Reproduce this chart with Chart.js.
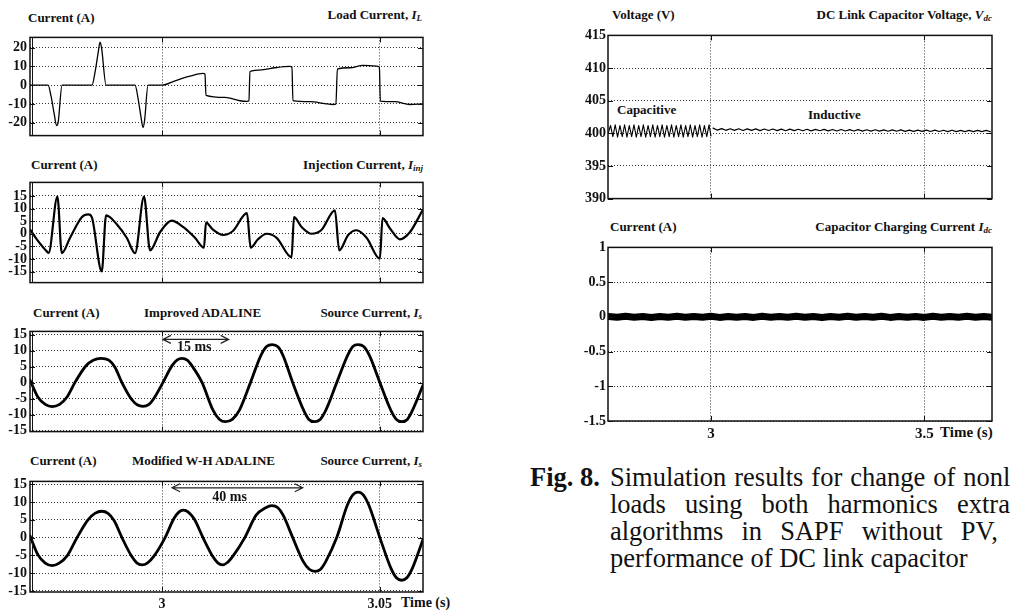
<!DOCTYPE html>
<html><head><meta charset="utf-8">
<script src="https://cdn.jsdelivr.net/npm/chart.js@4.4.1/dist/chart.umd.min.js"></script>
<style>
html,body{margin:0;padding:0;background:#fff;width:1010px;height:613px;overflow:hidden;position:relative;font-family:"Liberation Serif","Times New Roman",serif;color:#111}
canvas{position:absolute}
.t{position:absolute;font-weight:bold;font-size:13px;white-space:nowrap;line-height:14px}
.t i{font-style:italic}
.t sub{font-size:9px;vertical-align:-2px;line-height:0}
.cap{position:absolute;font-size:26.5px;white-space:nowrap;line-height:27px}
</style></head><body>

<div class="t" style="left:28px;top:11px">Current (A)</div>
<div class="t" style="right:588px;top:8px">Load Current, <i>I<sub>L</sub></i></div>
<div class="t" style="left:31px;top:158px">Current (A)</div>
<div class="t" style="right:587px;top:158px">Injection Current, <i>I<sub>inj</sub></i></div>
<div class="t" style="left:33px;top:306px">Current (A)</div>
<div class="t" style="left:144px;top:306px">Improved ADALINE</div>
<div class="t" style="right:588px;top:306px">Source Current, <i>I<sub>s</sub></i></div>
<div class="t" style="left:30px;top:454px">Current (A)</div>
<div class="t" style="left:132px;top:454px">Modified W-H ADALINE</div>
<div class="t" style="right:588px;top:454px">Source Current, <i>I<sub>s</sub></i></div>
<div class="t" style="left:401px;top:596px;font-size:14px">Time (s)</div>

<div class="t" style="left:612px;top:8px">Voltage (V)</div>
<div class="t" style="right:18px;top:8px">DC Link Capacitor Voltage, <i>V<sub>dc</sub></i></div>
<div class="t" style="left:617px;top:103px">Capacitive</div>
<div class="t" style="left:808px;top:108px">Inductive</div>
<div class="t" style="left:610px;top:220px">Current (A)</div>
<div class="t" style="right:18px;top:220px">Capacitor Charging Current <i>I<sub>dc</sub></i></div>
<div class="t" style="left:940px;top:425px;font-size:15px">Time (s)</div>

<div class="cap" style="left:530px;top:464px"><b>Fig. 8.</b></div>
<div class="cap" style="left:610px;top:464px;word-spacing:1.3px">Simulation results for change of nonlinear</div>
<div class="cap" style="left:610px;top:491px;word-spacing:12.4px">loads using both harmonics extraction</div>
<div class="cap" style="left:610px;top:518px;word-spacing:11.5px">algorithms in SAPF without PV,</div>
<div class="cap" style="left:610px;top:545px">performance of DC link capacitor</div>

<canvas id="c1"></canvas><canvas id="c2"></canvas><canvas id="c3"></canvas>
<canvas id="c4"></canvas><canvas id="c5"></canvas><canvas id="c6"></canvas>

<script>
// ---------------- DATA ----------------
const leftXTicks = [3, 3.05];
const rightXTicks = [3, 3.5];

// Load current I_L
const loadT = [2.96972,2.97385,2.97454,2.97523,2.97580,2.97615,2.97706,2.98394,2.98463,2.98532,2.98578,2.98612,2.98716,2.99381,2.99450,2.99518,2.99564,2.99599,2.99679,3.00000,3.00298,3.00642,3.00940,3.00986,3.01009,3.01445,3.01789,3.01950,3.01995,3.02018,3.02294,3.02592,3.02936,3.02982,3.03005,3.03394,3.03739,3.03922,3.03991,3.04025,3.04312,3.04610,3.04908,3.04989,3.05011,3.05344,3.05688,3.05986];
const loadV = [0,0,-6,-15,-21.5,-20,0,0,7,17,23,20,0,0,-7,-17,-22.5,-19,0,0,2.3,4.8,6.3,6.0,-5.4,-6.5,-8.3,-8.6,-8.4,7.3,8.2,9.3,10,9.8,-8.2,-8.8,-9.8,-10.3,-10.1,8.6,9.3,10.6,10.2,9.7,-8.5,-8.8,-10.3,-10];
const loadYTicks = [-20,-10,0,10,20];

// Injection current I_inj
const injT = [2.96972,2.97126,2.97362,2.97397,2.97599,2.97700,2.97890,2.98158,2.98310,2.98388,2.98617,2.98716,2.98961,2.99190,2.99381,2.99587,2.99725,2.99954,3.00222,3.00482,3.00757,3.00963,3.01009,3.01170,3.01399,3.01628,3.01950,3.02034,3.02202,3.02401,3.02631,3.02975,3.03028,3.03204,3.03433,3.03663,3.03968,3.04067,3.04273,3.04466,3.04695,3.05000,3.05062,3.05229,3.05459,3.05688,3.05979];
const injV = [1.6,-2.2,-7.1,-7.6,14.8,-7.7,-1.6,6.6,7.7,6.6,-15,7.3,3.8,-1.6,-7.7,14.8,-6.6,0.6,5.2,2.7,-1.6,-5.5,4.4,1.6,-0.5,1.1,8.2,-5.5,-2.2,0,-1.6,-9.3,6.6,2.7,0,1.6,9.3,-6.6,-0.5,1.4,-1.6,-9.9,6.2,2.2,-2.2,0.6,9.3];
const injYTicks = [-15,-10,-5,0,5,10,15];

// Source current, Improved ADALINE
const srcAT = [2.9697,2.9715,2.9732,2.9748,2.9765,2.9782,2.9800,2.9825,2.9842,2.9860,2.9878,2.9892,2.9908,2.9930,2.9944,2.9956,2.9970,2.9982,3.0002,3.0023,3.0035,3.0046,3.0058,3.0070,3.0092,3.0117,3.0132,3.0146,3.0162,3.0178,3.0203,3.0227,3.0240,3.0253,3.0266,3.0278,3.0300,3.0325,3.0337,3.0350,3.0363,3.0376,3.0401,3.0426,3.0438,3.0450,3.0463,3.0476,3.0500,3.0525,3.0538,3.0550,3.0563,3.0575,3.0599];
const srcAV = [0.8,-4.5,-6.8,-7.5,-6.8,-4.5,0,5.2,7.0,7.6,7.0,4.8,0,-5.2,-7.0,-7.4,-6.8,-4.8,0,5.3,7.1,7.6,7.0,5.0,0,-8.6,-11.5,-12.2,-11.4,-8.5,0,8.5,11.3,11.9,11.2,8.4,0,-8.6,-11.5,-12.2,-11.5,-8.6,0,8.5,11.3,11.9,11.3,8.5,0,-8.6,-11.5,-12.2,-11.5,-8.6,-0.8];

// Source current, Modified W-H ADALINE
const srcBT = [2.9697,2.9715,2.9732,2.9748,2.9764,2.9783,2.9805,2.9830,2.9846,2.9862,2.9876,2.9890,2.9908,2.9930,2.9942,2.9954,2.9967,2.9981,3.0007,3.0027,3.0038,3.0049,3.0061,3.0074,3.0094,3.0117,3.0128,3.0138,3.0150,3.0164,3.0190,3.0216,3.0238,3.0252,3.0266,3.0278,3.0300,3.0324,3.0338,3.0351,3.0364,3.0376,3.0401,3.0425,3.0438,3.0450,3.0462,3.0475,3.0500,3.0525,3.0538,3.0550,3.0562,3.0575,3.0599];
const srcBV = [0.5,-4.8,-7.2,-7.9,-7.2,-5.0,0,5.0,6.8,7.4,6.8,4.8,0,-5.2,-7.1,-7.7,-7.1,-5.3,0,5.3,7.1,7.7,7.1,5.2,0,-5.4,-7.1,-7.7,-7.0,-5.0,0,6.3,8.4,9.0,8.4,6.3,0,-6.7,-8.9,-9.5,-8.9,-6.7,0,9.0,12.0,12.8,12.0,9.0,0,-8.5,-11.3,-12.0,-11.3,-8.5,-0.5];
const srcYTicks = [-15,-10,-5,0,5,10,15];

// Arrow annotations (time span, level, label)
const arrowA = {t0:3.0002, t1:3.0153, y:13.5, text:'15 ms', tx:3.0074, ty:10.9};
const arrowB = {t0:3.0023, t1:3.0323, y:14.0, text:'40 ms', tx:3.0155, ty:11.2};

// DC link capacitor voltage
const capT = [2.7590,2.7645,2.7700,2.7755,2.7810,2.7865,2.7920,2.7975,2.8030,2.8085,2.8140,2.8195,2.8250,2.8305,2.8360,2.8415,2.8470,2.8525,2.8580,2.8635,2.8690,2.8745,2.8800,2.8855,2.8910,2.8965,2.9020,2.9075,2.9130,2.9185,2.9240,2.9295,2.9350,2.9405,2.9460,2.9515,2.9570,2.9625,2.9680,2.9735,2.9790,2.9845,2.9900,2.9955,3.0000];
const capV = [400.0,401.2,399.5,401.3,399.4,401.2,399.5,401.3,399.4,401.2,399.5,401.3,399.4,401.2,399.5,401.3,399.4,401.2,399.5,401.3,399.4,401.2,399.5,401.3,399.4,401.2,399.5,401.3,399.4,401.2,399.5,401.3,399.4,401.2,399.5,401.3,399.4,401.2,399.5,401.3,399.4,401.2,399.5,401.3,399.6];
const indT = [3.005,3.015,3.025,3.035,3.045,3.055,3.065,3.075,3.085,3.095,3.105,3.115,3.125,3.135,3.145,3.155,3.165,3.175,3.185,3.195,3.205,3.215,3.225,3.235,3.245,3.255,3.265,3.275,3.285,3.295,3.305,3.315,3.325,3.335,3.345,3.355,3.365,3.375,3.385,3.395,3.405,3.415,3.425,3.435,3.445,3.455,3.465,3.475,3.485,3.495,3.505,3.515,3.525,3.535,3.545,3.555,3.565,3.575,3.585,3.595,3.605,3.615,3.625,3.635,3.645,3.655];
const indV = [400.80,400.48,400.72,400.46,400.70,400.45,400.70,400.44,400.68,400.45,400.68,400.42,400.66,400.43,400.66,400.42,400.64,400.40,400.64,400.41,400.62,400.40,400.62,400.38,400.60,400.39,400.60,400.37,400.58,400.36,400.58,400.36,400.56,400.35,400.56,400.34,400.55,400.33,400.54,400.33,400.53,400.32,400.52,400.31,400.52,400.30,400.50,400.30,400.50,400.29,400.49,400.28,400.48,400.28,400.47,400.27,400.47,400.26,400.46,400.26,400.45,400.25,400.45,400.25,400.44,400.24];
const vdcYTicks = [390,395,400,405,410,415];

// Capacitor charging current
const idcT = [2.76,2.78,2.80,2.82,2.84,2.86,2.88,2.90,2.92,2.94,2.96,2.98,3.00,3.02,3.04,3.06,3.08,3.10,3.12,3.14,3.16,3.18,3.20,3.22,3.24,3.26,3.28,3.30,3.32,3.34,3.36,3.38,3.40,3.42,3.44,3.46,3.48,3.50,3.52,3.54,3.56,3.58,3.60,3.62,3.64,3.66];
const idcV = [0.005,-0.005,0.008,-0.005,0.005,-0.008,0.005,-0.005,0.008,-0.005,0.005,-0.005,0.008,-0.008,0.005,-0.005,0.005,-0.008,0.008,-0.005,0.005,-0.005,0.008,-0.005,0.005,-0.008,0.005,-0.005,0.008,-0.005,0.005,-0.005,0.008,-0.008,0.005,-0.005,0.005,-0.008,0.008,-0.005,0.005,-0.005,0.008,-0.005,0.005,-0.005];
const idcYTicks = [-1.5,-1,-0.5,0,0.5,1];

// ---------------- RENDERING ----------------
const FONT = '"Liberation Serif","Times New Roman",serif';
const pts = (T, V) => T.map((t, i) => ({x: t, y: V[i]}));

const framePlugin = {
  id: 'frame',
  afterDraw(chart, args, o) {
    const {ctx, chartArea: a, scales: {x, y}} = chart;
    ctx.save();
    ctx.setLineDash([]);
    ctx.strokeStyle = '#111';
    ctx.lineWidth = 1;
    const tl = 5;
    ctx.beginPath();
    y.ticks.forEach(t => {
      const p = Math.round(y.getPixelForValue(t.value)) + 0.5;
      ctx.moveTo(a.left, p); ctx.lineTo(a.left + tl, p);
      ctx.moveTo(a.right, p); ctx.lineTo(a.right - tl, p);
    });
    x.ticks.forEach(t => {
      const p = Math.round(x.getPixelForValue(t.value)) + 0.5;
      ctx.moveTo(p, a.top); ctx.lineTo(p, a.top + tl);
      ctx.moveTo(p, a.bottom); ctx.lineTo(p, a.bottom - tl);
    });
    ctx.stroke();
    ctx.lineWidth = 1.5;
    ctx.strokeRect(a.left, a.top, a.right - a.left, a.bottom - a.top);
    if (o && o.doubleLeft) {
      ctx.lineWidth = 1;
      ctx.beginPath(); ctx.moveTo(a.left + 2.5, a.top); ctx.lineTo(a.left + 2.5, a.bottom); ctx.stroke();
    }
    if (o && o.arrow) {
      const ar = o.arrow;
      const x0 = x.getPixelForValue(ar.t0), x1 = x.getPixelForValue(ar.t1), yy = y.getPixelForValue(ar.y);
      ctx.strokeStyle = '#222'; ctx.lineWidth = 1.2;
      ctx.beginPath();
      ctx.moveTo(x0, yy); ctx.lineTo(x1, yy);
      ctx.moveTo(x0 + 8, yy - 4); ctx.lineTo(x0, yy); ctx.lineTo(x0 + 8, yy + 4);
      ctx.moveTo(x1 - 8, yy - 4); ctx.lineTo(x1, yy); ctx.lineTo(x1 - 8, yy + 4);
      ctx.stroke();
      ctx.fillStyle = '#111';
      ctx.font = 'bold 14px ' + FONT;
      ctx.textAlign = 'center'; ctx.textBaseline = 'middle';
      ctx.fillText(ar.text, x.getPixelForValue(ar.tx), y.getPixelForValue(ar.ty));
    }
    ctx.restore();
  }
};

function makeChart(id, g, datasets, opt) {
  const padT = 2, padR = 2;
  const cv = document.getElementById(id);
  const W = g.R - g.L + g.yw + padR, H = g.B - g.T + padT + g.xh;
  cv.width = W; cv.height = H;
  cv.style.left = (g.L - g.yw) + 'px'; cv.style.top = (g.T - padT) + 'px';
  cv.style.width = W + 'px'; cv.style.height = H + 'px';
  return new Chart(cv, {
    type: 'line',
    data: {datasets},
    plugins: [framePlugin],
    options: {
      responsive: false, animation: false, events: [],
      layout: {padding: {top: padT, right: padR, left: 0, bottom: 0}},
      plugins: {legend: {display: false}, tooltip: {enabled: false}, frame: opt.frame || {}},
      elements: {point: {radius: 0}, line: {borderCapStyle: 'round', borderJoinStyle: 'round'}},
      scales: {
        x: {
          type: 'linear', min: g.xmin, max: g.xmax,
          afterBuildTicks: s => { s.ticks = g.xTicks.map(v => ({value: v})); },
          afterFit: s => { s.height = g.xh; },
          grid: {drawTicks: false, color: '#333', lineWidth: 1},
          border: {display: false, dash: [1, 2]},
          ticks: {display: g.showX, autoSkip: false, maxRotation: 0, padding: 4, color: '#111',
                  font: {family: FONT, size: g.xfs, weight: 'bold'}, callback: v => String(v)}
        },
        y: {
          type: 'linear', min: g.ymin, max: g.ymax,
          afterBuildTicks: s => { s.ticks = g.yTicks.map(v => ({value: v})); },
          afterFit: s => { s.width = g.yw; },
          grid: {drawTicks: false, color: '#333', lineWidth: 1},
          border: {display: false, dash: [1, 2]},
          ticks: {autoSkip: false, padding: g.ypad, color: '#111', font: {family: FONT, size: g.yfs, weight: 'bold'},
                  callback: v => String(v)}
        }
      }
    }
  });
}

const LX = {L: 30, R: 423, yw: 30, ypad: 3, yfs: 14, xfs: 14, xmin: 2.9697, xmax: 3.0599, xTicks: leftXTicks};
const RX = {L: 608, R: 992, yw: 42, ypad: 2, yfs: 14, xfs: 15, xmin: 2.7586, xmax: 3.6587, xTicks: rightXTicks};
const ds = (T, V, w, mono) => ({data: pts(T, V), borderColor: '#000', borderWidth: w, fill: false,
  cubicInterpolationMode: mono ? 'monotone' : 'default', tension: 0});

makeChart('c1', {...LX, T: 28, B: 147, xh: 0, showX: false, ymin: -26.9, ymax: 25.5, yTicks: loadYTicks},
  [ds(loadT, loadV, 1.3, true)], {frame: {doubleLeft: true}});
makeChart('c2', {...LX, T: 173, B: 294, xh: 0, showX: false, ymin: -19.4, ymax: 20.4, yTicks: injYTicks},
  [ds(injT, injV, 2.2, true)], {frame: {doubleLeft: true}});
makeChart('c3', {...LX, T: 322, B: 443, xh: 0, showX: false, ymin: -15.3, ymax: 16.0, yTicks: srcYTicks},
  [ds(srcAT, srcAV, 2.8, true)], {frame: {doubleLeft: true, arrow: arrowA}});
makeChart('c4', {...LX, T: 472, B: 592, xh: 22, showX: true, ymin: -15.3, ymax: 15.8, yTicks: srcYTicks},
  [ds(srcBT, srcBV, 2.8, true)], {frame: {doubleLeft: true, arrow: arrowB}});
makeChart('c5', {...RX, T: 27, B: 209, xh: 0, showX: false, ymin: 390, ymax: 415, yTicks: vdcYTicks},
  [ds(capT, capV, 1.1, false), ds(indT, indV, 1.2, false)], {});
makeChart('c6', {...RX, T: 239, B: 421, xh: 24, showX: true, ymin: -1.5, ymax: 1, yTicks: idcYTicks},
  [ds(idcT, idcV, 7, false)], {});
</script>
</body></html>
